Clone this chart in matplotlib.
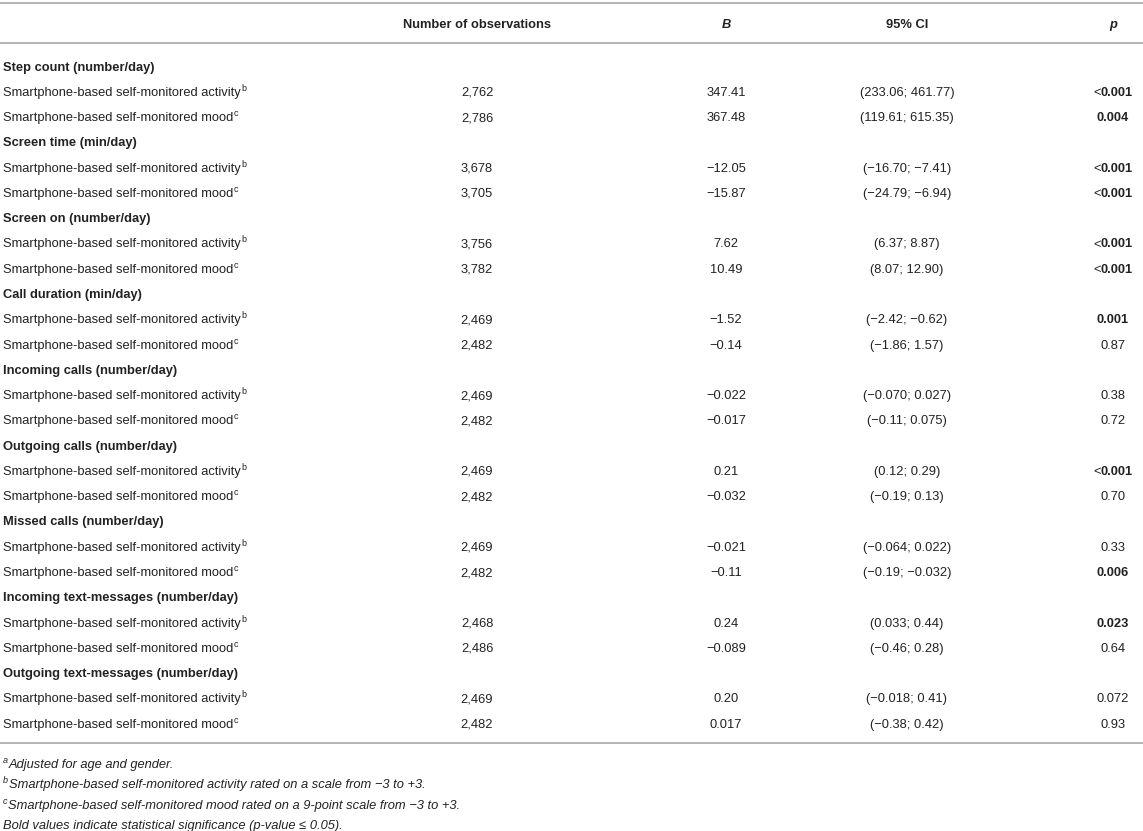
import matplotlib.pyplot as plt

plt.rcParams['font.family'] = ['Liberation Sans', 'DejaVu Sans']

# Dados da tabela
headers = ["Number of observations", "B", "95% CI", "p"]
groups = ["Step count (number/day)", "Screen time (min/day)", "Screen on (number/day)",
          "Call duration (min/day)", "Incoming calls (number/day)", "Outgoing calls (number/day)",
          "Missed calls (number/day)", "Incoming text-messages (number/day)",
          "Outgoing text-messages (number/day)"]
row_labels = ["Smartphone-based self-monitored activity", "Smartphone-based self-monitored mood"]
row_sup = ["b", "c"]

n_obs = [["2,762", "2,786"], ["3,678", "3,705"], ["3,756", "3,782"], ["2,469", "2,482"],
         ["2,469", "2,482"], ["2,469", "2,482"], ["2,469", "2,482"], ["2,468", "2,486"],
         ["2,469", "2,482"]]
coef_b = [["347.41", "367.48"], ["−12.05", "−15.87"], ["7.62", "10.49"], ["−1.52", "−0.14"],
          ["−0.022", "−0.017"], ["0.21", "−0.032"], ["−0.021", "−0.11"], ["0.24", "−0.089"],
          ["0.20", "0.017"]]
ci = [["(233.06; 461.77)", "(119.61; 615.35)"], ["(−16.70; −7.41)", "(−24.79; −6.94)"],
      ["(6.37; 8.87)", "(8.07; 12.90)"], ["(−2.42; −0.62)", "(−1.86; 1.57)"],
      ["(−0.070; 0.027)", "(−0.11; 0.075)"], ["(0.12; 0.29)", "(−0.19; 0.13)"],
      ["(−0.064; 0.022)", "(−0.19; −0.032)"], ["(0.033; 0.44)", "(−0.46; 0.28)"],
      ["(−0.018; 0.41)", "(−0.38; 0.42)"]]
p_vals = [["<0.001", "0.004"], ["<0.001", "<0.001"], ["<0.001", "<0.001"], ["0.001", "0.87"],
          ["0.38", "0.72"], ["<0.001", "0.70"], ["0.33", "0.006"], ["0.023", "0.64"],
          ["0.072", "0.93"]]
signif = [[True, True], [True, True], [True, True], [True, False], [False, False],
          [True, False], [False, True], [True, False], [False, False]]

footnotes = [("a", "Adjusted for age and gender."),
             ("b", "Smartphone-based self-monitored activity rated on a scale from −3 to +3."),
             ("c", "Smartphone-based self-monitored mood rated on a 9-point scale from −3 to +3."),
             ("", "Bold values indicate statistical significance (p-value ≤ 0.05).")]

W, H = 1143, 831
fig = plt.figure(figsize=(W / 100, H / 100), dpi=100)
ax = fig.add_axes([0, 0, 1, 1])
ax.set_xlim(0, W)
ax.set_ylim(H, 0)
ax.axis('off')

txt = '#222222'
linec = '#a8a8a8'
fs = 9.3
fs_sup = 6.5
col_x = [477, 726, 907, 1113]
left = 3
bl = 4.6  # deslocamento centro -> linha de base
renderer = fig.canvas.get_renderer()


def cell(x, y, s, **kw):
    kw.setdefault('ha', 'center')
    kw.setdefault('fontsize', fs)
    return ax.text(x, y + bl, s, va='baseline', color=txt, **kw)


def px_to_data_x(px):
    return ax.transData.inverted().transform((px, 0))[0]


# Linhas horizontais
for y in [3, 43, 743]:
    ax.plot([0, W], [y, y], color=linec, lw=1.2)

# Cabeçalho
y_head = 23
cell(col_x[0], y_head, headers[0], fontweight='bold')
cell(col_x[1], y_head, headers[1], fontweight='bold', style='italic')
cell(col_x[2], y_head, headers[2], fontweight='bold')
cell(col_x[3], y_head, headers[3], fontweight='bold', style='italic')

y0 = 66
step = 25.27
line = 0
for g, name in enumerate(groups):
    y = y0 + line * step
    cell(left, y, name, ha='left', fontweight='bold')
    line += 1
    for r in range(2):
        y = y0 + line * step
        t = cell(left, y, row_labels[r], ha='left')
        xe = px_to_data_x(t.get_window_extent(renderer).x1)
        cell(xe + 0.5, y - 5, row_sup[r], ha='left', fontsize=fs_sup)
        cell(col_x[0], y, n_obs[g][r])
        cell(col_x[1], y, coef_b[g][r])
        cell(col_x[2], y, ci[g][r])
        pv = p_vals[g][r]
        wt = 'bold' if signif[g][r] else 'normal'
        if pv.startswith('<'):
            t = cell(col_x[3] + 4, y, pv[1:], fontweight=wt)
            xs = px_to_data_x(t.get_window_extent(renderer).x0)
            cell(xs, y, '<', ha='right')
        else:
            cell(col_x[3], y, pv, fontweight=wt)
        line += 1

# Notas de rodapé
for i, (sup, note) in enumerate(footnotes):
    y = 763 + i * 20.5
    x = left
    if sup:
        ts = cell(left, y - 5, sup, ha='left', style='italic', fontsize=fs_sup)
        x = px_to_data_x(ts.get_window_extent(renderer).x1) + 1
    cell(x, y, note, ha='left', style='italic')

fig.savefig('out.png', dpi=100)
